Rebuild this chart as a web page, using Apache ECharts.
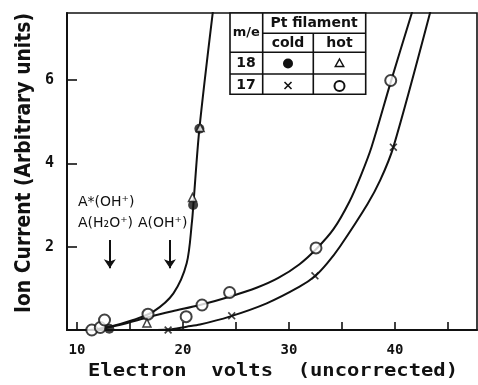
<!DOCTYPE html>
<html><head><meta charset="utf-8">
<script src="https://cdn.jsdelivr.net/npm/echarts@6/dist/echarts.min.js"></script>
<style>html,body{margin:0;padding:0;background:#fff}#c{width:478px;height:385px}</style>
</head><body><div id="c"></div>
<script>
// ---- data ----
const xTickLabels = [10, 20, 30, 40];
const xTickMarks = [10, 15, 20, 25, 30, 35, 40, 45];
const yTickLabels = [2, 4, 6];

// drawn curves (m/e 18, m/e 17 hot, m/e 17 cold)
const curve18 = [[11.2,0],[13.1,0.08],[15.3,0.24],[17.2,0.44],[19.1,0.88],[20.35,1.6],[20.85,2.6],[21.0,3.07],[21.55,4.83],[22.85,7.7]];
const curve17hot = [[12.0,0.02],[14.0,0.12],[16.9,0.32],[19.0,0.45],[21.6,0.6],[24.4,0.8],[27.0,1.02],[29.0,1.25],[31.0,1.58],[32.6,1.95],[34.2,2.42],[35.7,3.08],[36.8,3.72],[37.8,4.4],[39.6,5.95],[41.7,7.7]];
const curve17cold = [[17.0,0],[18.6,0.01],[20.35,0.08],[21.6,0.13],[24.4,0.32],[27.9,0.64],[31.0,1.04],[32.45,1.29],[33.6,1.6],[34.8,2.0],[37.4,3.02],[38.6,3.59],[39.85,4.39],[43.4,7.7]];

// measured points
const hot17Circles = [[11.4,0.0],[12.2,0.06],[12.6,0.24],[16.7,0.38],[20.3,0.32],[21.8,0.6],[24.4,0.9],[32.55,1.97],[39.6,5.99]];
const cold18Dots = [[13.05,0.03],[20.96,3.0],[21.55,4.83]];
const hot18Triangles = [[16.6,0.17],[20.9,3.18],[21.62,4.86]];
const cold17Crosses = [[18.6,0.0],[24.6,0.34],[32.45,1.3],[39.85,4.39]];

// arrows: [x, yFrom, yTo]
const arrows = [[13.1,2.16,1.48],[18.77,2.16,1.48]];

const xTitle = 'Electron  volts  (uncorrected)';
const yTitle = 'Ion Current (Arbitrary units)';

// ---- chart ----
const chart = echarts.init(document.getElementById('c'), null, {renderer:'canvas'});
const INK = '#111';
const crossPath = 'path://M0,1.5 L1.5,0 L5,3.5 L8.5,0 L10,1.5 L6.5,5 L10,8.5 L8.5,10 L5,6.5 L1.5,10 L0,8.5 L3.5,5 Z';

function measure(text, font){
  const c = document.createElement('canvas').getContext('2d');
  c.font = font; return c.measureText(text).width;
}
const xFont = 'bold 17px "DejaVu Sans Mono"';
const yFont = '600 22px "DejaVu Sans"';
const xScale = 370 / measure(xTitle, xFont);
const yScale = 300 / measure(yTitle, yFont);

const curveLine = (data) => ({
  type:'line', data, smooth:0.3, symbol:'none',
  lineStyle:{color:INK, width:2}, z:2, silent:true, clip:true
});
const tableLine = (x1,y1,x2,y2) => ({type:'line', shape:{x1,y1,x2,y2}, style:{stroke:INK, lineWidth:1.6}});
const tText = (text,x,y,size,weight) => ({type:'text', x, y, style:{text, x:0, y:0, align:'center', verticalAlign:'middle', font:(weight||'bold')+' '+size+'px "DejaVu Sans"', fill:INK}});

chart.setOption({
  animation:false,
  backgroundColor:'#fff',
  grid:{left:67, right:1, top:13, bottom:55, show:true, borderColor:INK, borderWidth:1.6, backgroundColor:'transparent'},
  xAxis:{
    type:'value', min:9.06, max:47.74,
    axisLine:{show:true, lineStyle:{color:INK, width:2}},
    axisTick:{show:true, inside:true, length:8, customValues:xTickMarks, lineStyle:{color:INK, width:1.6}},
    axisLabel:{customValues:xTickLabels, margin:13, color:INK, fontFamily:'DejaVu Sans Mono', fontWeight:'bold', fontSize:14},
    splitLine:{show:false}
  },
  yAxis:{
    type:'value', min:0, max:7.61,
    axisLine:{show:true, lineStyle:{color:INK, width:2}},
    axisTick:{show:true, inside:true, length:10, customValues:yTickLabels, lineStyle:{color:INK, width:1.6}},
    axisLabel:{customValues:yTickLabels, margin:13, color:INK, fontFamily:'DejaVu Sans Mono', fontWeight:'bold', fontSize:15},
    splitLine:{show:false}
  },
  series:[
    curveLine(curve18),
    curveLine(curve17hot),
    curveLine(curve17cold),
    {type:'lines', coordinateSystem:'cartesian2d', z:3, silent:true,
     data: arrows.map(a => ({coords:[[a[0],a[1]],[a[0],a[2]]]})),
     symbol:['none','arrow'], symbolSize:[0,9],
     lineStyle:{color:INK, width:2, opacity:1}},
    {type:'scatter', name:'m/e 17 hot', data:hot17Circles, symbol:'circle', symbolSize:11, z:5,
     itemStyle:{color:'#fff', borderColor:INK, borderWidth:2}},
    {type:'scatter', name:'m/e 18 cold', data:cold18Dots, symbol:'circle', symbolSize:10, z:6,
     itemStyle:{color:INK}},
    {type:'scatter', name:'m/e 18 hot', data:hot18Triangles, symbol:'triangle', symbolSize:8, z:7,
     itemStyle:{color:'#fff', borderColor:INK, borderWidth:1.5}},
    {type:'scatter', name:'m/e 17 cold', data:cold17Crosses, symbol:crossPath, symbolSize:8, z:6,
     itemStyle:{color:INK}}
  ],
  graphic:[
    // axis titles
    {type:'text', x:273, y:372, scaleX:xScale, style:{text:xTitle, x:0, y:0, align:'center', verticalAlign:'middle', font:xFont, fill:INK}},
    {type:'text', x:24, y:163, rotation:Math.PI/2, scaleX:yScale, style:{text:yTitle, x:0, y:0, align:'center', verticalAlign:'middle', font:yFont, fill:INK}},
    // annotations
    {type:'text', x:78, y:202, style:{text:'A*(OH⁺)', x:0, y:0, align:'left', verticalAlign:'middle', font:'500 14px "DejaVu Sans"', fill:INK}},
    {type:'text', x:78, y:223, style:{text:'A(H₂O⁺)', x:0, y:0, align:'left', verticalAlign:'middle', font:'500 14px "DejaVu Sans"', fill:INK}},
    {type:'text', x:138, y:223, style:{text:'A(OH⁺)', x:0, y:0, align:'left', verticalAlign:'middle', font:'500 14px "DejaVu Sans"', fill:INK}},
    // legend table
    {type:'rect', shape:{x:230, y:13, width:135.7, height:81.3}, style:{fill:'#fff', stroke:INK, lineWidth:1.6}},
    tableLine(262.7,33.3,365.7,33.3),
    tableLine(230,52.3,365.7,52.3),
    tableLine(230,74,365.7,74),
    tableLine(262.7,13,262.7,94.3),
    tableLine(313.3,33.3,313.3,94.3),
    tText('m/e',246.3,33,13),
    tText('Pt filament',314,23.5,14),
    tText('cold',288,43,14),
    tText('hot',339.5,43,14),
    tText('18',246,63,14),
    tText('17',246,85,14),
    {type:'circle', shape:{cx:288, cy:63.5, r:5}, style:{fill:INK}},
    {type:'polygon', shape:{points:[[339.5,59],[343.7,66.5],[335.3,66.5]]}, style:{fill:'#fff', stroke:INK, lineWidth:1.5}},
    tableLine(284.5,82,291.5,89),
    tableLine(291.5,82,284.5,89),
    {type:'circle', shape:{cx:339.5, cy:86, r:5}, style:{fill:'#fff', stroke:INK, lineWidth:2}}
  ]
});
</script>
</body></html>
